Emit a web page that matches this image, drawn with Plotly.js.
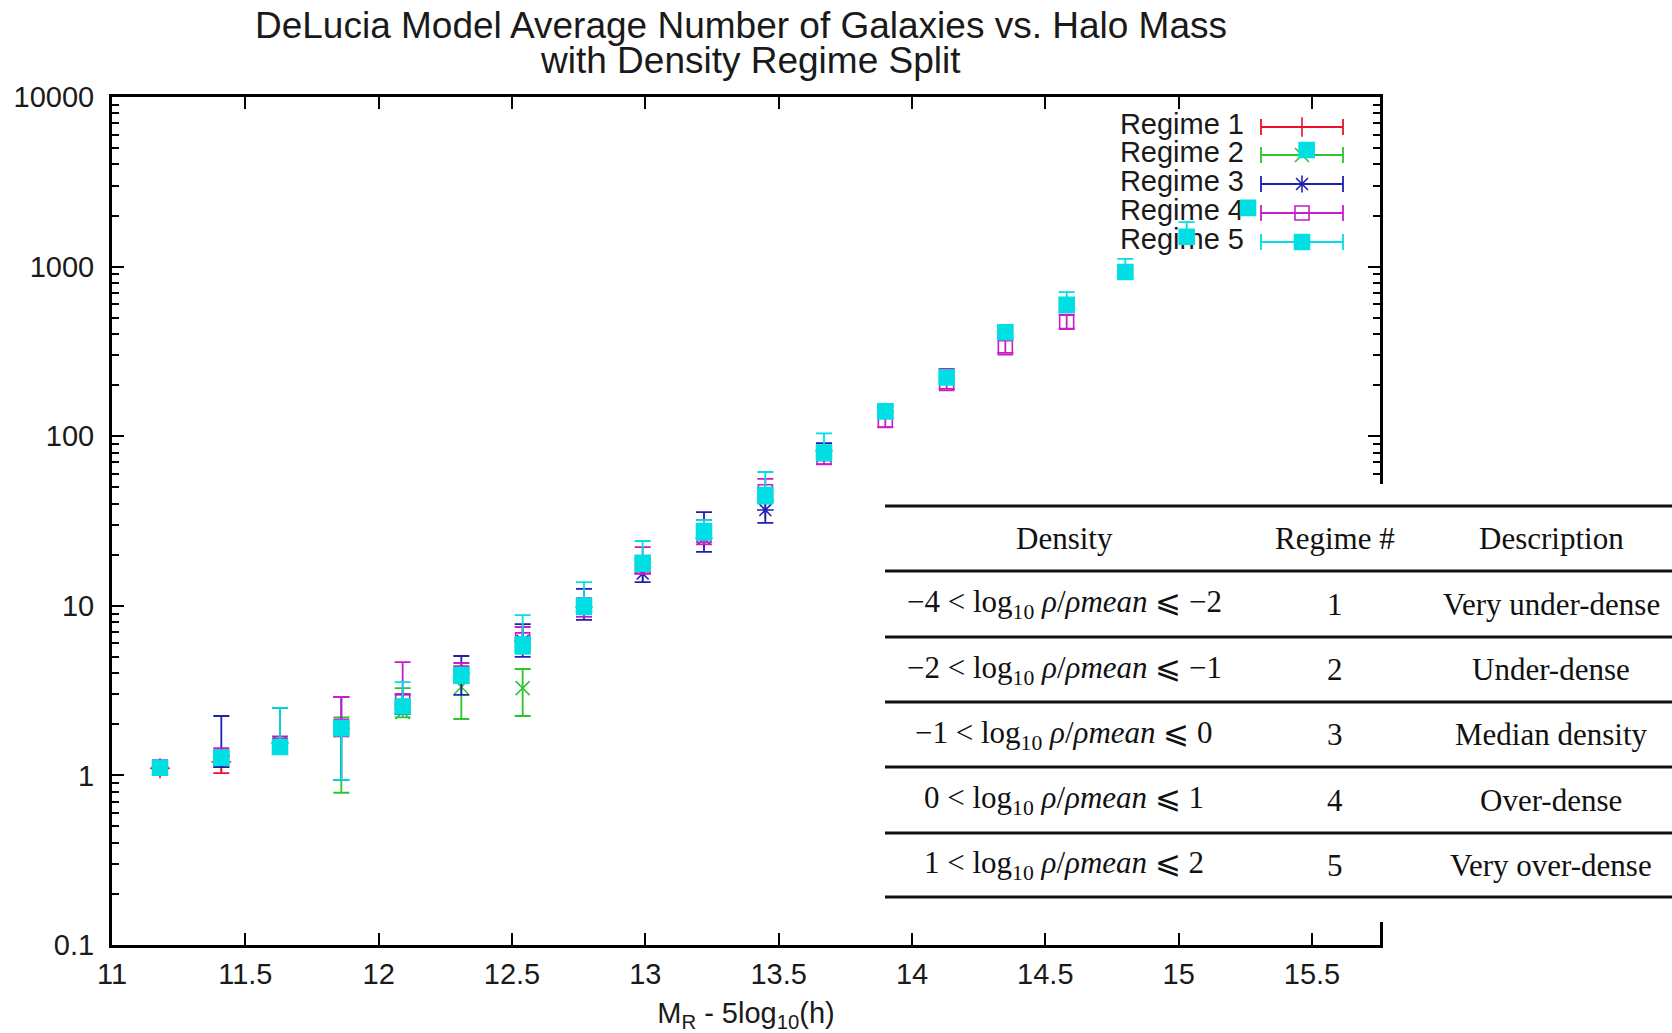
<!DOCTYPE html>
<html>
<head>
<meta charset="utf-8">
<script src="https://cdn.plot.ly/plotly-3.0.1.min.js"></script>
<style>
  html, body { margin: 0; padding: 0; background: #fff; }
  #chart { width: 1672px; height: 1033px; }
</style>
</head>
<body>
<div id="chart"></div>
<script>
// ---- Halo mass bins shared by every density regime ----
const haloMass = [11.18, 11.41, 11.63, 11.86, 12.09, 12.31, 12.54, 12.77, 12.99, 13.22,
                  13.45, 13.67, 13.90, 14.13, 14.35, 14.58, 14.80, 15.03, 15.26, 15.48];

const regimeNames = ["Regime 1", "Regime 2", "Regime 3", "Regime 4", "Regime 5"];

// Regime 1: very under-dense (average number of galaxies, lower / upper error limits)
const r1Mean = [1.10, 1.20];
const r1Low  = [1.04, 1.03];
const r1High = [1.16, 1.30];

// Regime 2: under-dense
const r2Mean = [1.10, 1.25, 1.50, 1.85, 2.37, 3.32, 3.27];
const r2Low  = [1.03, 1.12, 1.35, 0.79, 2.20, 2.15, 2.24];
const r2High = [1.18, 1.40, 1.65, 2.20, 3.27, 4.40, 4.24];

// Regime 3: median density
const r3Mean = [1.12, 1.30, 1.55, 1.90, 2.60, 4.00, 6.20, 9.80, 15.5, 25.0, 36.7, 82.0, 140];
const r3Low  = [1.05, 1.12, 1.38, 0.94, 2.30, 2.98, 5.00, 8.25, 13.8, 20.8, 30.8, 72.0, 128];
const r3High = [1.20, 2.24, 2.50, 2.90, 3.00, 5.06, 7.80, 12.6, 19.0, 35.7, 42.0, 91.0, 152];

// Regime 4: over-dense
const r4Mean = [1.12, 1.28, 1.50, 1.95, 2.75, 4.00, 6.30, 10.0, 17.0, 26.0, 47.0, 75.0, 124, 205, 333, 470];
const r4Low  = [1.05, 1.15, 1.35, 1.70, 2.45, 3.50, 5.50, 8.60, 15.5, 23.0, 41.0, 68.5, 113, 190, 310, 430];
const r4High = [1.20, 1.45, 1.70, 2.90, 4.66, 4.60, 7.50, 11.1, 22.2, 32.0, 56.0, 88.0, 148, 249, 370, 520];

// Regime 5: very over-dense
const r5Mean = [1.11, 1.27, 1.47, 1.90, 2.55, 3.90, 5.90, 10.0, 17.9, 27.5, 45.0, 80.0, 140, 222, 410, 595, 930, 1500, 2220, 4870];
const r5Low  = [1.05, 1.18, 1.38, 0.94, 2.35, 3.50, 5.20, 8.90, 16.0, 24.5, 40.0, 72.0, 128, 205, 380, 540, 860, 1400, 2100, 4650];
const r5High = [1.17, 1.35, 2.50, 2.05, 3.55, 4.30, 8.80, 13.8, 24.1, 32.0, 61.5, 104, 155, 245, 440, 708, 1110, 1830, 2350, 5100];

// ---- Axis tick labels ----
const yTickVals = [0.1, 1, 10, 100, 1000, 10000];
const yTickText = ["0.1", "1", "10", "100", "1000", "10000"];

// ---- Density regime table ----
const densityLower = [-4, -2, -1, 0, 1];
const densityUpper = [-2, -1, 0, 1, 2];
const regimeNumbers = [1, 2, 3, 4, 5];
const regimeDescriptions = ["Very under-dense", "Under-dense", "Median density", "Over-dense", "Very over-dense"];
const tableHeaders = ["Density", "Regime #", "Description"];

const titleLines = ["DeLucia Model Average Number of Galaxies vs. Halo Mass", "with Density Regime Split"];
const xTitle = "M<sub>R</sub> - 5log<sub>10</sub>(h)";

// ---- Geometry (pixels) ----
const W = 1672, H = 1033;
const ML = 112, MT = 97, PW = 1268, PH = 848;
const X_RANGE = [11, 15.755];
const Y_LOG_RANGE = [-1, 4];

const paperX = px => (px - ML) / PW;
const paperY = py => (MT + PH - py) / PH;
const dataX = px => X_RANGE[0] + (px - ML) / PW * (X_RANGE[1] - X_RANGE[0]);
const dataY = py => Math.pow(10, Y_LOG_RANGE[1] - (py - MT) / PH * (Y_LOG_RANGE[1] - Y_LOG_RANGE[0]));

// ---- Styles ----
const SANS = "Liberation Sans, Arial, sans-serif";
const SERIF = "Liberation Serif, Times New Roman, serif";
const INK = "#1a1a1a";
const regimeStyle = [
  { color: "#e8102c", symbol: "cross-thin-open", size: 14 },
  { color: "#2ec42e", symbol: "x-thin-open", size: 14 },
  { color: "#2020b0", symbol: "asterisk-open", size: 14 },
  { color: "#c81ec8", symbol: "square-open", size: 14 },
  { color: "#00e0e4", symbol: "square", size: 15 }
];

const regimeSeries = [
  [r1Mean, r1Low, r1High],
  [r2Mean, r2Low, r2High],
  [r3Mean, r3Low, r3High],
  [r4Mean, r4Low, r4High],
  [r5Mean, r5Low, r5High]
];

function markerFor(st) {
  return { symbol: st.symbol, size: st.size, color: st.color, line: { color: st.color, width: 1.6 } };
}

const traces = [];

// Key: labels and sample error bars (drawn first, so data points sit on top)
const keyRowsPx = [127, 155, 184, 213, 242];
const keyTextRightPx = 1244;
const keySampleCenterPx = 1302;
const keySampleHalfPx = 41;
traces.push({
  type: "scatter", mode: "text",
  x: keyRowsPx.map(() => dataX(keyTextRightPx)),
  y: keyRowsPx.map(dataY),
  text: regimeNames,
  textposition: "middle left",
  textfont: { family: SANS, size: 29, color: INK },
  marker: { size: 1 },
  showlegend: false, hoverinfo: "skip", cliponaxis: false
});
regimeStyle.forEach((st, i) => {
  traces.push({
    type: "scatter", mode: "markers",
    x: [dataX(keySampleCenterPx)], y: [dataY(keyRowsPx[i])],
    error_x: { type: "data", array: [dataX(keySampleCenterPx + keySampleHalfPx) - dataX(keySampleCenterPx)],
               color: st.color, thickness: 1.8, width: 8 },
    marker: markerFor(st),
    showlegend: false, hoverinfo: "skip", cliponaxis: false
  });
});

// Data: one trace per density regime, asymmetric error bars
regimeSeries.forEach(([mean, low, high], i) => {
  const st = regimeStyle[i];
  traces.push({
    type: "scatter", mode: "markers",
    name: regimeNames[i],
    x: haloMass.slice(0, mean.length),
    y: mean,
    error_y: {
      type: "data", symmetric: false,
      array: high.map((h, k) => h - mean[k]),
      arrayminus: mean.map((m, k) => m - low[k]),
      color: st.color, thickness: 1.8, width: 8
    },
    marker: markerFor(st),
    showlegend: false, hoverinfo: "skip"
  });
});

// Minor tick positions on the log axis (2..9 of each decade)
const yMinor = [];
for (let d = -1; d < 4; d++) for (let m = 2; m <= 9; m++) yMinor.push(m * Math.pow(10, d));

// ---- Table overlay ----
const tableLeftPx = 885, tableRightPx = W;
const tableBoxTopPx = 484, tableBoxBottomPx = 922;
const tableRulesPx = [506, 571, 637, 702, 767, 833, 897];
const tableColCentersPx = [1064, 1335, 1551];

const shapes = [{
  type: "rect", xref: "paper", yref: "paper", layer: "above",
  x0: paperX(tableLeftPx), x1: paperX(tableRightPx),
  y0: paperY(tableBoxBottomPx), y1: paperY(tableBoxTopPx),
  fillcolor: "#ffffff", line: { width: 0 }
}];
tableRulesPx.forEach(py => shapes.push({
  type: "line", xref: "paper", yref: "paper", layer: "above",
  x0: paperX(tableLeftPx), x1: paperX(tableRightPx), y0: paperY(py), y1: paperY(py),
  line: { color: "#111", width: 3 }
}));

const fmtNum = v => (v < 0 ? "\u2212" + Math.abs(v) : String(v));
const annotations = [];
const cellText = (text, colIdx, rowTop, rowBottom) => ({
  xref: "paper", yref: "paper",
  x: paperX(tableColCentersPx[colIdx]), y: paperY((rowTop + rowBottom) / 2),
  xanchor: "center", yanchor: "middle", showarrow: false,
  text: text, font: { family: SERIF, size: 31, color: "#111" }
});
tableHeaders.forEach((h, c) => annotations.push(cellText(h, c, tableRulesPx[0], tableRulesPx[1])));
regimeNumbers.forEach((n, r) => {
  const top = tableRulesPx[r + 1], bottom = tableRulesPx[r + 2];
  const density = fmtNum(densityLower[r]) + " &lt; log<sub>10</sub> <i>\u03c1</i>/<i>\u03c1mean</i> \u2a7d " + fmtNum(densityUpper[r]);
  annotations.push(cellText(density, 0, top, bottom));
  annotations.push(cellText(String(n), 1, top, bottom));
  annotations.push(cellText(regimeDescriptions[r], 2, top, bottom));
});

// Second title line
annotations.push({
  xref: "paper", yref: "paper", x: paperX(750), y: paperY(61),
  xanchor: "center", yanchor: "middle", showarrow: false,
  text: titleLines[1], font: { family: SANS, size: 37, color: INK }
});

const axisCommon = {
  showline: true, linewidth: 3, linecolor: "#000",
  mirror: "allticks", ticks: "inside", ticklen: 12, tickwidth: 2, tickcolor: "#000",
  showgrid: false, zeroline: false, fixedrange: true,
  tickfont: { family: SANS, size: 29, color: INK }
};

const layout = {
  width: W, height: H, autosize: false,
  paper_bgcolor: "#fff", plot_bgcolor: "#fff",
  margin: { l: ML, r: W - ML - PW, t: MT, b: H - MT - PH, pad: 0 },
  showlegend: false,
  title: {
    text: titleLines[0], font: { family: SANS, size: 37, color: INK },
    xref: "paper", x: paperX(741), xanchor: "center",
    yref: "container", y: 1 - 25 / H, yanchor: "middle"
  },
  xaxis: Object.assign({}, axisCommon, {
    range: X_RANGE, tick0: 11, dtick: 0.5,
    ticklabelstandoff: 1,
    title: { text: xTitle, font: { family: SANS, size: 29, color: INK }, standoff: 28 }
  }),
  yaxis: Object.assign({}, axisCommon, {
    type: "log", range: Y_LOG_RANGE,
    tickmode: "array", tickvals: yTickVals, ticktext: yTickText,
    ticklabelstandoff: 9,
    minor: { tickmode: "array", tickvals: yMinor, ticks: "inside", ticklen: 7, tickwidth: 2, tickcolor: "#000" }
  }),
  shapes: shapes,
  annotations: annotations
};

Plotly.newPlot("chart", traces, layout, { staticPlot: true, displayModeBar: false });
</script>
</body>
</html>
